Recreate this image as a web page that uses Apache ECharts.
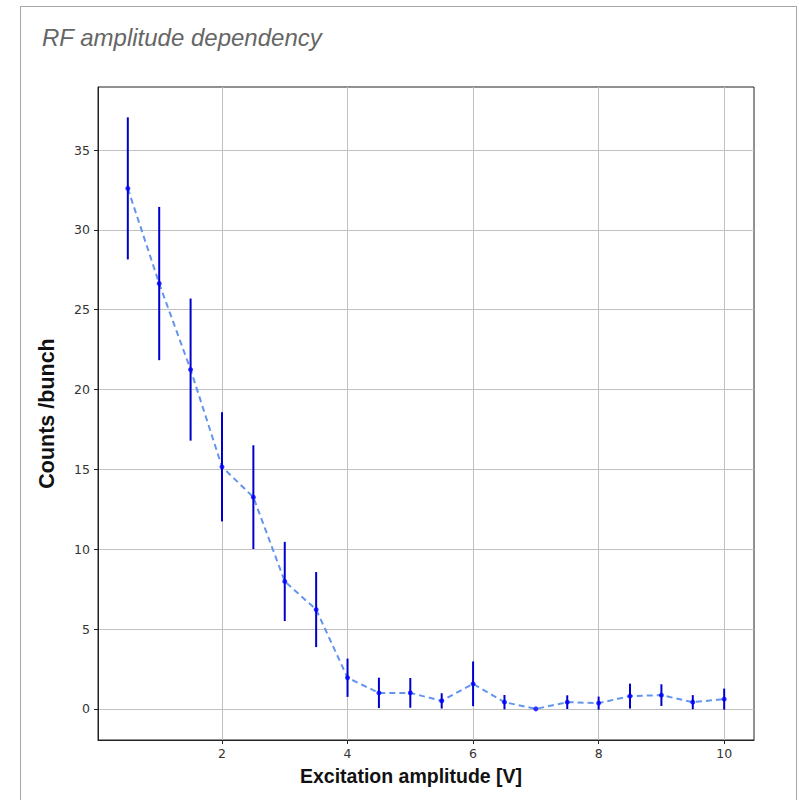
<!DOCTYPE html>
<html>
<head>
<meta charset="utf-8">
<script src="https://cdn.jsdelivr.net/npm/echarts@6/dist/echarts.min.js"></script>
<style>
  html, body { margin: 0; padding: 0; background: #fff; }
  #card { position: absolute; left: 20px; top: 6px; width: 777px; height: 820px; border: 1px solid #a8a8a8; box-sizing: border-box; }
  #chart { position: absolute; left: 0; top: 0; width: 799px; height: 800px; }
</style>
</head>
<body>
<div id="card"></div>
<div id="chart"></div>
<script>
const titleText = 'RF amplitude dependency';
const xAxisName = 'Excitation amplitude [V]';
const yAxisName = 'Counts /bunch';
const xValues = [0.5, 1.0, 1.5, 2.0, 2.5, 3.0, 3.5, 4.0, 4.5, 5.0, 5.5, 6.0, 6.5, 7.0, 7.5, 8.0, 8.5, 9.0, 9.5, 10.0];
const yValues = [32.6, 26.64, 21.25, 15.16, 13.26, 7.98, 6.22, 1.95, 1.0, 1.0, 0.5, 1.57, 0.42, 0.0, 0.42, 0.36, 0.8, 0.86, 0.42, 0.61];
const yErrors = [4.45, 4.8, 4.45, 3.42, 3.25, 2.48, 2.35, 1.2, 0.95, 0.93, 0.48, 1.4, 0.45, 0.0, 0.43, 0.41, 0.78, 0.68, 0.44, 0.66];
const xTicks = [2, 4, 6, 8, 10];
const yTicks = [0, 5, 10, 15, 20, 25, 30, 35];

const pts = xValues.map((x, i) => [x, yValues[i]]);
const errData = xValues.map((x, i) => [x, yValues[i] - yErrors[i], yValues[i] + yErrors[i]]);

const chart = echarts.init(document.getElementById('chart'), null, { renderer: 'svg' });
const tickFont = { fontFamily: 'DejaVu Sans', fontSize: 12.5, color: '#333' };
chart.setOption({
  animation: false,
  title: {
    text: titleText, left: 37, top: 20,
    textStyle: { fontFamily: 'Liberation Sans', fontStyle: 'italic', fontWeight: 'normal', fontSize: 24, color: '#666' }
  },
  grid: { left: 98, top: 87, right: 45, bottom: 60, show: true, borderColor: '#222', borderWidth: 1, backgroundColor: 'transparent' },
  xAxis: {
    type: 'value', min: 0.025, max: 10.475,
    name: xAxisName, nameLocation: 'middle', nameGap: 26,
    nameTextStyle: { fontFamily: 'Liberation Sans', fontWeight: 'bold', fontSize: 19.5, color: '#111', padding: [0, 30, 0, 0] },
    axisLine: { show: true, onZero: false, lineStyle: { color: '#222' } },
    axisTick: { show: true, length: 4, customValues: xTicks, lineStyle: { color: '#222' } },
    axisLabel: { customValues: xTicks, margin: 7, ...tickFont },
    splitLine: { show: true, lineStyle: { color: '#c0c0c0', width: 1 } }
  },
  yAxis: {
    type: 'value', min: -1.95, max: 38.95,
    name: yAxisName, nameLocation: 'middle', nameGap: 40, nameRotate: 90,
    nameTextStyle: { fontFamily: 'Liberation Sans', fontWeight: 'bold', fontSize: 21.5, color: '#111' },
    axisLine: { show: true, onZero: false, lineStyle: { color: '#222' } },
    axisTick: { show: true, length: 4, customValues: yTicks, lineStyle: { color: '#222' } },
    axisLabel: { customValues: yTicks, margin: 8, ...tickFont },
    splitLine: { show: true, lineStyle: { color: '#c0c0c0', width: 1 } }
  },
  series: [
    {
      type: 'line', data: pts, symbol: 'none', z: 2,
      lineStyle: { color: '#6495ed', width: 2, type: [6, 4] }
    },
    {
      type: 'custom', z: 3, data: errData,
      renderItem: function (params, api) {
        const top = api.coord([api.value(0), api.value(2)]);
        const bot = api.coord([api.value(0), api.value(1)]);
        return { type: 'line', shape: { x1: top[0], y1: top[1], x2: bot[0], y2: bot[1] }, style: { stroke: '#0000cd', lineWidth: 2 } };
      }
    },
    {
      type: 'scatter', data: pts, z: 4, symbol: 'circle', symbolSize: 5,
      itemStyle: { color: '#0000ff' }
    }
  ]
});
</script>
</body>
</html>
